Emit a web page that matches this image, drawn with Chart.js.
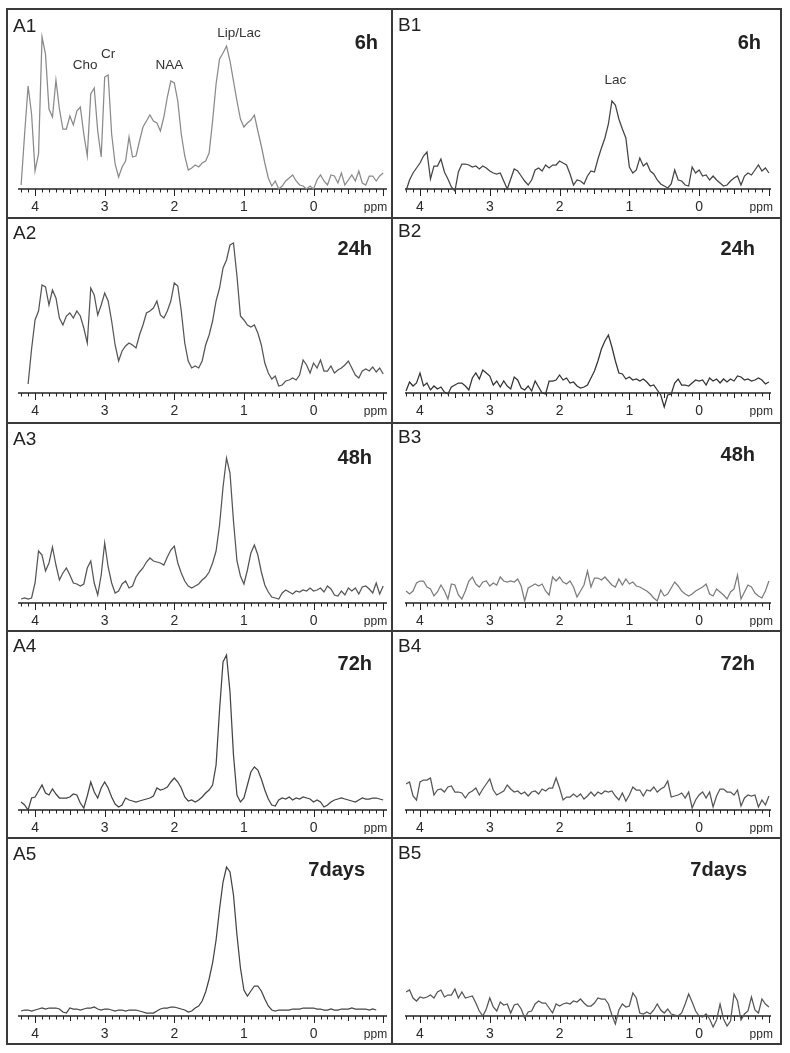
<!DOCTYPE html>
<html>
<head>
<meta charset="utf-8">
<title>1H MRS spectra, A1-A5 / B1-B5</title>
<script src="https://cdn.jsdelivr.net/npm/chart.js@4.4.0/dist/chart.umd.min.js"></script>
<style>
  html, body { margin: 0; padding: 0; background: #fff; }
  #figure { position: relative; width: 790px; height: 1053px; overflow: hidden; }
  #figure canvas { position: absolute; }
  .rule { position: absolute; background: #3a3a3a; z-index: 2; }
</style>
</head>
<body>
<div id="figure"></div>
<script>
// chemical shift sampling shared by every spectrum (ppm, high field on the right)
const ppmGrid = [
  4.2, 4.15, 4.1, 4.05, 4, 3.95, 3.9, 3.85, 3.8, 3.75, 3.7, 3.65, 3.6, 3.55, 3.5, 3.45, 3.4, 3.35, 3.3, 3.25,
  3.2, 3.15, 3.1, 3.05, 3, 2.95, 2.9, 2.85, 2.8, 2.75, 2.7, 2.65, 2.6, 2.55, 2.5, 2.45, 2.4, 2.35, 2.3, 2.25,
  2.2, 2.15, 2.1, 2.05, 2, 1.95, 1.9, 1.85, 1.8, 1.75, 1.7, 1.65, 1.6, 1.55, 1.5, 1.45, 1.4, 1.35, 1.3, 1.25,
  1.2, 1.15, 1.1, 1.05, 1, 0.95, 0.9, 0.85, 0.8, 0.75, 0.7, 0.65, 0.6, 0.55, 0.5, 0.45, 0.4, 0.35, 0.3, 0.25,
  0.2, 0.15, 0.1, 0.05, 0, -0.05, -0.1, -0.15, -0.2, -0.25, -0.3, -0.35, -0.4, -0.45, -0.5, -0.55, -0.6, -0.65, -0.7, -0.75,
  -0.8, -0.85, -0.9, -0.95, -1
];

const timePoints = ['6h', '24h', '48h', '72h', '7days'];
const majorTicks = [0, 1, 2, 3, 4];
const unitLabel = 'ppm';

// column A spectra (signal intensity, a.u.)
const specA1 = [
  4, 55, 103, 75, 18, 35, 152, 135, 80, 72, 109, 80, 60, 60, 73, 64, 78, 82, 55, 33,
  95, 101, 58, 32, 112, 114, 55, 25, 12, 22, 28, 52, 32, 33, 48, 62, 68, 74, 68, 66,
  58, 72, 92, 108, 106, 88, 55, 33, 19, 21, 24, 22, 26, 28, 36, 68, 105, 130, 136, 143,
  128, 108, 88, 70, 62, 66, 69, 74, 58, 43, 26, 11, 3, 8, 0, 3, 8, 11, 14, 8,
  4, 3, 0, 3, 0, 9, 14, 8, 4, 14, 13, 6, 16, 4, 9, 14, 8, 18, 6, 4,
  13, 13, 8, 13, 16
];
const specA2 = [
  null, null, 9, 44, 73, 82, 108, 106, 88, 103, 95, 75, 68, 77, 80, 75, 82, 77, 65, 50,
  105, 98, 78, 88, 100, 92, 72, 48, 32, 42, 47, 50, 48, 45, 58, 68, 80, 82, 85, 92,
  78, 75, 82, 92, 110, 107, 82, 50, 32, 25, 27, 25, 32, 48, 58, 72, 92, 105, 125, 133,
  148, 150, 117, 77, 73, 68, 66, 68, 60, 48, 30, 20, 14, 17, 7, 8, 12, 13, 15, 13,
  18, 33, 28, 20, 30, 25, 33, 22, 22, 27, 20, 23, 25, 28, 32, 25, 18, 15, 22, 24,
  22, 26, 21, 25, 19
];
const specA3 = [
  4, 5, 4, 5, 20, 52, 48, 32, 40, 56, 38, 23, 30, 35, 28, 20, 19, 17, 19, 35,
  42, 20, 8, 28, 60, 36, 20, 10, 12, 19, 22, 15, 17, 26, 31, 35, 41, 45, 42, 41,
  40, 38, 46, 53, 57, 40, 30, 22, 17, 15, 17, 19, 23, 26, 31, 40, 52, 78, 116, 145,
  130, 82, 42, 27, 19, 33, 50, 58, 48, 31, 18, 11, 6, 5, 4, 10, 13, 11, 9, 12,
  11, 13, 12, 15, 12, 13, 15, 11, 17, 14, 8, 7, 12, 8, 15, 12, 15, 9, 16, 17,
  14, 10, 20, 9, 17
];
const specA4 = [
  8, 5, 0, 12, 13, 19, 25, 17, 15, 21, 16, 12, 12, 12, 13, 16, 15, 7, 2, 14,
  28, 18, 12, 22, 28, 22, 13, 6, 3, 5, 12, 10, 9, 8, 9, 10, 11, 12, 14, 22,
  20, 21, 23, 28, 32, 28, 22, 13, 9, 10, 8, 10, 13, 17, 20, 25, 45, 100, 148, 155,
  118, 55, 15, 8, 12, 25, 38, 43, 40, 31, 20, 11, 5, 4, 10, 12, 11, 13, 10, 12,
  11, 13, 12, 11, 8, 10, 8, 3, 5, 8, 10, 11, 12, 11, 10, 9, 8, 10, 12, 11,
  11, 12, 12, 11, 10
];
const specA5 = [
  5, 6, 6, 5, 6, 7, 8, 7, 8, 8, 8, 7, 4, 3, 8, 7, 7, 6, 7, 8,
  8, 9, 7, 6, 7, 7, 6, 5, 6, 6, 5, 6, 6, 6, 5, 4, 3, 3, 3, 5,
  7, 8, 8, 9, 9, 8, 7, 6, 4, 5, 8, 10, 15, 24, 37, 53, 76, 107, 134, 149,
  144, 121, 81, 48, 26, 20, 25, 30, 30, 25, 17, 10, 6, 5, 6, 6, 6, 6, 7, 7,
  7, 8, 8, 8, 8, 7, 7, 6, 6, 7, 6, 6, 7, 7, 7, 8, 7, 7, 7, 7,
  6, 7, 6, null, null
];

// column B spectra (signal intensity, a.u.)
const specB1 = [
  -2, 9, 16, 21, 26, 33, 37, 10, 23, 23, 30, 17, 10, 2, -2, 17, 25, 25, 24, 22,
  23, 20, 23, 21, 18, 16, 15, 16, 8, 0, 10, 20, 18, 13, 8, 4, 9, 19, 21, 18,
  24, 21, 24, 24, 28, 26, 24, 15, 4, 9, 8, 5, 13, 18, 17, 30, 41, 51, 65, 88,
  84, 70, 60, 51, 22, 16, 19, 31, 23, 26, 18, 15, 9, 5, 3, 1, 5, 19, 9, 8,
  4, 3, 22, 16, 19, 13, 14, 9, 13, 9, 6, 3, 4, 8, 11, 13, 4, 13, 16, 14,
  19, 24, 18, 21, 16
];
const specB2 = [
  2, 11, 7, 10, 20, 7, 10, 3, 7, 4, 6, 1, -1, 6, 8, 10, 10, 7, 3, 15,
  20, 14, 23, 20, 17, 8, 12, 6, 12, 7, 4, 16, 13, 5, 3, 7, 2, 12, 6, 0,
  -1, 12, 12, 13, 18, 13, 15, 10, 11, 7, 5, 6, 8, 15, 22, 32, 44, 52, 58, 46,
  32, 20, 19, 14, 16, 13, 14, 12, 14, 11, 7, 8, 3, -2, -14, -2, -1, 10, 14, 8,
  8, 7, 10, 13, 12, 13, 8, 15, 12, 14, 10, 14, 11, 14, 12, 17, 16, 13, 14, 12,
  13, 15, 13, 9, 11
];
const specB3 = [
  12, 9, 12, 20, 22, 22, 16, 14, 7, 11, 18, 12, 4, 19, 18, 8, 4, 12, 22, 26,
  19, 16, 21, 22, 17, 20, 18, 26, 22, 21, 22, 21, 24, 17, 2, 15, 17, 19, 17, 19,
  12, 8, 26, 22, 26, 21, 19, 22, 16, 6, 12, 18, 32, 16, 25, 25, 23, 26, 22, 18,
  16, 24, 18, 24, 19, 21, 17, 16, 14, 12, 9, 5, 2, 13, 7, 9, 15, 21, 17, 12,
  9, 7, 9, 12, 14, 16, 19, 9, 7, 14, 11, 8, 4, 11, 14, 28, 4, 11, 18, 16,
  10, 7, 5, 12, 22
];
const specB4 = [
  26, 28, 14, 10, 28, 30, 30, 32, 15, 20, 21, 18, 23, 24, 18, 18, 17, 12, 17, 19,
  22, 15, 21, 26, 31, 20, 15, 17, 19, 25, 21, 18, 19, 16, 18, 14, 18, 19, 16, 21,
  19, 22, 22, 32, 22, 10, 13, 13, 16, 13, 16, 11, 14, 18, 14, 18, 16, 19, 18, 19,
  14, 10, 17, 9, 15, 23, 20, 20, 14, 20, 19, 23, 18, 21, 23, 29, 13, 14, 15, 17,
  12, 18, 2, 10, 15, 18, 12, 18, 3, 14, 21, 21, 18, 18, 15, 20, 4, 12, 15, 14,
  15, 3, 10, 5, 14
];
const specB5 = [
  24, 26, 18, 15, 19, 18, 19, 21, 18, 24, 26, 19, 21, 21, 27, 18, 24, 18, 19, 20,
  13, 5, 0, 7, 18, 9, 5, 14, 11, 12, 3, 11, 12, 7, -2, 4, 5, 12, 15, 13,
  13, 8, 3, 12, 10, 12, 13, 12, 15, 14, 17, 13, 10, 10, 13, 18, 17, 17, 12, 1,
  -8, 6, 12, 9, 10, 23, 18, 3, 2, 4, 2, 6, 12, 6, 3, 7, 2, 1, 0, 3,
  12, 22, 14, 5, 0, -1, 2, -3, -11, -4, 12, -3, -10, -5, 22, 15, -4, 2, 5, 19,
  6, 3, 17, 12, 9
];

// peak assignments
const peaksA1 = ['Cho', 'Cr', 'NAA', 'Lip/Lac'];
const peaksA1Ppm = [3.28, 2.95, 2.07, 1.07];
const peaksB1 = ['Lac'];
const peaksB1Ppm = [1.2];

const FONT = '"Liberation Sans", Arial, Helvetica, sans-serif';

// page geometry
const colEdges = [7, 392, 781];
const rowEdges = [9, 218, 423, 631, 838, 1044];
const baselines = [189, 393, 603, 810, 1016];
const axisHeight = 24;
const yTop = 175;

const panels = [
  {name: 'A1', col: 0, row: 0, data: specA1, color: '#8a8a8a', timeX: 371, timeY: 34, nameY: 17.5,
    peaks: peaksA1, peakPpm: peaksA1Ppm, peakLevel: [124, 135, 124, 156]},
  {name: 'A2', col: 0, row: 1, data: specA2, color: '#555', timeX: 365, timeY: 31, nameY: 15.5},
  {name: 'A3', col: 0, row: 2, data: specA3, color: '#555', timeX: 365, timeY: 35, nameY: 17},
  {name: 'A4', col: 0, row: 3, data: specA4, color: '#444', timeX: 365, timeY: 33, nameY: 15.5},
  {name: 'A5', col: 0, row: 4, data: specA5, color: '#444', timeX: 358, timeY: 32.5, nameY: 16.5},
  {name: 'B1', col: 1, row: 0, data: specB1, color: '#444', timeX: 369, timeY: 34.5, nameY: 17,
    peaks: peaksB1, peakPpm: peaksB1Ppm, peakLevel: [109]},
  {name: 'B2', col: 1, row: 1, data: specB2, color: '#333', timeX: 363, timeY: 31.5, nameY: 13.5},
  {name: 'B3', col: 1, row: 2, data: specB3, color: '#7c7c7c', timeX: 363, timeY: 32.5, nameY: 14.5},
  {name: 'B4', col: 1, row: 3, data: specB4, color: '#555', timeX: 363, timeY: 33, nameY: 15.5},
  {name: 'B5', col: 1, row: 4, data: specB5, color: '#555', timeX: 355, timeY: 32.5, nameY: 16}
];

// axis line, ppm tick marks and the panel texts
function spectrumDecor(panel) {
  return {
    id: 'spectrumDecor',
    beforeDatasetsDraw(chart) {
      const {ctx, chartArea} = chart;
      const xs = chart.scales.x;
      const y0 = chartArea.bottom;
      ctx.save();
      ctx.strokeStyle = '#222';
      ctx.lineWidth = 1.6;
      ctx.beginPath();
      ctx.moveTo(chartArea.left, y0);
      ctx.lineTo(chartArea.right, y0);
      ctx.stroke();
      ctx.lineWidth = 1;
      ctx.beginPath();
      for (let i = 42; i >= -10; i--) {
        const px = Math.round(xs.getPixelForValue(i / 10)) + 0.5;
        const len = i % 10 === 0 ? 7 : (i % 5 === 0 ? 5 : 3.5);
        ctx.moveTo(px, y0);
        ctx.lineTo(px, y0 + len);
      }
      ctx.stroke();
      ctx.restore();
    },
    afterDraw(chart) {
      const {ctx} = chart;
      const xs = chart.scales.x, ys = chart.scales.y;
      ctx.save();
      ctx.textBaseline = 'middle';
      ctx.fillStyle = '#222';
      ctx.font = '19px ' + FONT;
      ctx.textAlign = 'left';
      ctx.fillText(panel.name, 6, panel.nameY);
      ctx.font = 'bold 20px ' + FONT;
      ctx.textAlign = 'right';
      ctx.fillText(timePoints[panel.row], panel.timeX, panel.timeY);
      if (panel.peaks) {
        ctx.font = '13.5px ' + FONT;
        ctx.textAlign = 'center';
        ctx.fillStyle = '#333';
        panel.peaks.forEach((lbl, i) => {
          ctx.fillText(lbl, xs.getPixelForValue(panel.peakPpm[i]), ys.getPixelForValue(panel.peakLevel[i]));
        });
      }
      ctx.restore();
    }
  };
}

const fig = document.getElementById('figure');

panels.forEach((p) => {
  const left = colEdges[p.col], width = colEdges[p.col + 1] - left;
  const top = rowEdges[p.row], height = rowEdges[p.row + 1] - top;
  const base = baselines[p.row];
  const isA = p.col === 0;

  const canvas = document.createElement('canvas');
  canvas.width = width;
  canvas.height = height;
  canvas.style.left = left + 'px';
  canvas.style.top = top + 'px';
  canvas.style.width = width + 'px';
  canvas.style.height = height + 'px';
  fig.appendChild(canvas);

  new Chart(canvas, {
    type: 'line',
    data: {
      datasets: [{
        data: ppmGrid.map((v, i) => ({x: v, y: p.data[i]})),
        borderColor: p.color,
        borderWidth: 1.25,
        pointRadius: 0,
        tension: 0,
        fill: false,
        spanGaps: false,
        clip: false
      }]
    },
    options: {
      responsive: false,
      animation: false,
      devicePixelRatio: 1,
      events: [],
      layout: {
        padding: {
          left: isA ? 11 : 13,
          right: isA ? 5 : 10,
          top: base - yTop - top,
          bottom: rowEdges[p.row + 1] - base - axisHeight
        }
      },
      plugins: { legend: { display: false }, tooltip: { enabled: false } },
      scales: {
        x: {
          type: 'linear',
          reverse: true,
          min: isA ? -1.055 : -1.03,
          max: isA ? 4.245 : 4.215,
          afterBuildTicks: (scale) => {
            scale.ticks = [-0.89].concat(majorTicks).map(v => ({value: v}));
          },
          afterFit: (scale) => { scale.height = axisHeight; },
          grid: { display: false, drawTicks: false },
          border: { display: false },
          ticks: {
            autoSkip: false,
            maxRotation: 0,
            padding: 10,
            color: '#2a2a2a',
            font: (c) => (c.tick && c.tick.value < -0.5)
              ? {family: FONT, size: 12, lineHeight: 1.4}
              : {family: FONT, size: 14, lineHeight: 1.2},
            callback: (v) => v < -0.5 ? unitLabel : String(v)
          }
        },
        y: { display: false, min: 0, max: yTop }
      }
    },
    plugins: [spectrumDecor(p)]
  });
});

// frame rules between the panels
colEdges.forEach((x) => {
  const d = document.createElement('div');
  d.className = 'rule';
  d.style.left = (x - 1) + 'px';
  d.style.top = (rowEdges[0] - 1) + 'px';
  d.style.width = '2px';
  d.style.height = (rowEdges[rowEdges.length - 1] - rowEdges[0] + 2) + 'px';
  fig.appendChild(d);
});
rowEdges.forEach((y) => {
  const d = document.createElement('div');
  d.className = 'rule';
  d.style.left = (colEdges[0] - 1) + 'px';
  d.style.top = (y - 1) + 'px';
  d.style.width = (colEdges[2] - colEdges[0] + 2) + 'px';
  d.style.height = '2px';
  fig.appendChild(d);
});
</script>
</body>
</html>
